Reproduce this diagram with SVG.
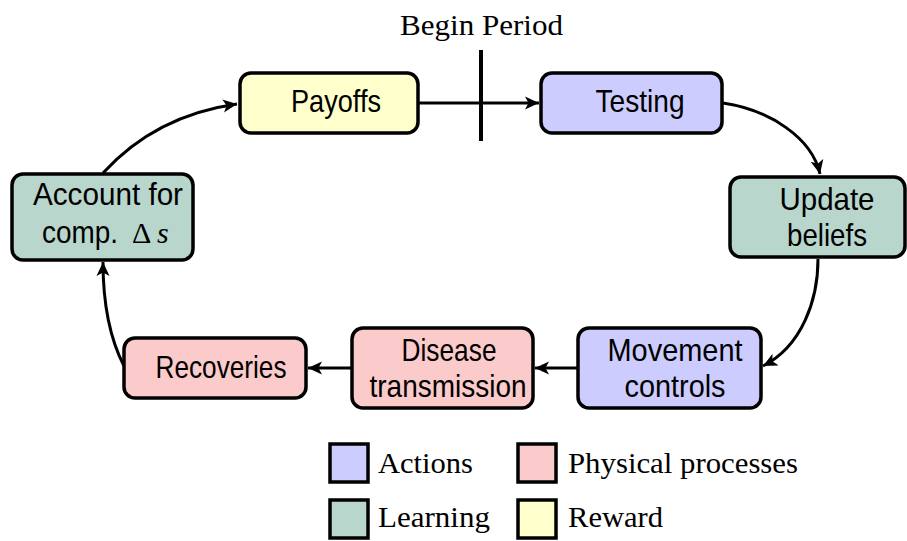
<svg xmlns="http://www.w3.org/2000/svg" width="907" height="541" viewBox="0 0 907 541">
<style>
.box{stroke:#000;stroke-width:3.5}
.act{fill:#ccccff}
.lrn{fill:#b8d6cc}
.phy{fill:#fbcaca}
.rew{fill:#ffffcc}
.t{font-family:"Liberation Sans",Arial,sans-serif;font-size:32px;fill:#000;text-anchor:middle}
.s{font-family:"Liberation Serif","Times New Roman",serif;font-size:30px;fill:#000}
.c{fill:none;stroke:#000;stroke-width:3}
</style>
<defs>
<marker id="ah" markerUnits="userSpaceOnUse" markerWidth="16" markerHeight="14" refX="14" refY="7" orient="auto">
<path d="M0,0.5 L14,7 L0,13.5 L3.5,7 Z" fill="#000"/>
</marker>
</defs>
<rect width="907" height="541" fill="#fff"/>
<g id="connectors">
<path class="c" d="M418,103 L539,103" marker-end="url(#ah)"/>
<line x1="481" y1="50" x2="481" y2="141" stroke="#000" stroke-width="4"/>
<path class="c" d="M723,103 C770,110 812,138 820,174" marker-end="url(#ah)"/>
<path class="c" d="M818,259 C818,300 802,346 763,366" marker-end="url(#ah)"/>
<path class="c" d="M578,368 L535,368" marker-end="url(#ah)"/>
<path class="c" d="M352,368 L308,368" marker-end="url(#ah)"/>
<path class="c" d="M124,366 C108,335 103,300 103,262" marker-end="url(#ah)"/>
<path class="c" d="M103,173 C135,138 180,112 237,104" marker-end="url(#ah)"/>
</g>
<g id="begin-period">
<text class="s" x="400" y="35" textLength="163" lengthAdjust="spacingAndGlyphs">Begin Period</text>
</g>
<g id="payoffs">
<rect class="box rew" x="240" y="73" width="178" height="60" rx="11"/>
<text class="t" x="336" y="112" textLength="90" lengthAdjust="spacingAndGlyphs">Payoffs</text>
</g>
<g id="testing">
<rect class="box act" x="541" y="73" width="181" height="60" rx="11"/>
<text class="t" x="640" y="112" textLength="89" lengthAdjust="spacingAndGlyphs">Testing</text>
</g>
<g id="update-beliefs">
<rect class="box lrn" x="730" y="177" width="175" height="80" rx="11"/>
<text class="t" x="827" y="210" textLength="95" lengthAdjust="spacingAndGlyphs">Update</text>
<text class="t" x="827" y="246" textLength="80" lengthAdjust="spacingAndGlyphs">beliefs</text>
</g>
<g id="movement-controls">
<rect class="box act" x="578" y="328" width="183" height="80" rx="11"/>
<text class="t" x="675" y="361" textLength="135" lengthAdjust="spacingAndGlyphs">Movement</text>
<text class="t" x="675" y="397" textLength="101" lengthAdjust="spacingAndGlyphs">controls</text>
</g>
<g id="disease-transmission">
<rect class="box phy" x="352" y="328" width="181" height="80" rx="11"/>
<text class="t" x="449" y="361" textLength="95" lengthAdjust="spacingAndGlyphs">Disease</text>
<text class="t" x="448" y="397" textLength="157" lengthAdjust="spacingAndGlyphs">transmission</text>
</g>
<g id="recoveries">
<rect class="box phy" x="124" y="338" width="182" height="60" rx="11"/>
<text class="t" x="221" y="378" textLength="131" lengthAdjust="spacingAndGlyphs">Recoveries</text>
</g>
<g id="account-for">
<rect class="box lrn" x="12" y="174" width="181" height="86" rx="11"/>
<text class="t" x="108" y="205" textLength="150" lengthAdjust="spacingAndGlyphs">Account for</text>
<text class="t" x="80" y="243" textLength="76" lengthAdjust="spacingAndGlyphs">comp.</text>
<text class="s" x="132" y="243" font-size="31">Δ</text>
<text class="s" x="157" y="243" font-size="31" font-style="italic">s</text>
</g>
<g id="legend">
<rect class="box act" x="330" y="444" width="38" height="38"/>
<text class="s" x="378" y="473" textLength="95" lengthAdjust="spacingAndGlyphs">Actions</text>
<rect class="box phy" x="518" y="444" width="38" height="38"/>
<text class="s" x="568" y="473" textLength="230" lengthAdjust="spacingAndGlyphs">Physical processes</text>
<rect class="box lrn" x="330" y="500" width="38" height="38"/>
<text class="s" x="378" y="527" textLength="112" lengthAdjust="spacingAndGlyphs">Learning</text>
<rect class="box rew" x="518" y="500" width="38" height="38"/>
<text class="s" x="568" y="527" textLength="95" lengthAdjust="spacingAndGlyphs">Reward</text>
</g>
</svg>
